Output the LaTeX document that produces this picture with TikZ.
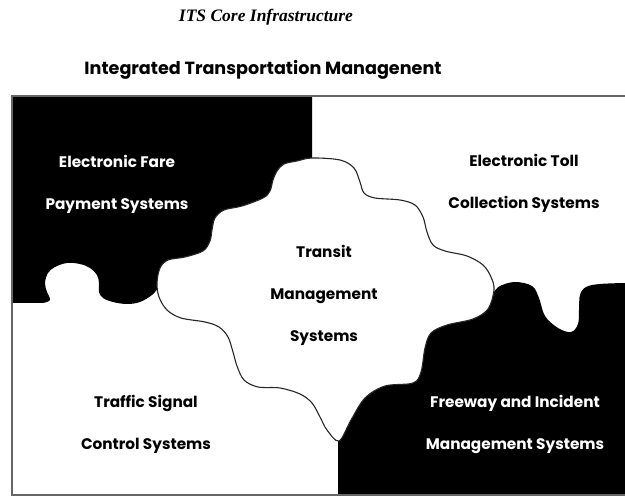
\documentclass[tikz,border=0pt]{standalone}
\usepackage{fontspec}
\newfontfamily\puzzlefont{Poppins}
\newfontfamily\capfont{Liberation Serif}
\tikzset{
	% label styles for the puzzle pieces
	darklabel/.style={font=\puzzlefont\bfseries\fontsize{15.3}{42}\selectfont, text=black, align=center, inner sep=0pt},
	lightlabel/.style={darklabel, text=white},
	frameline/.style={draw=black!60, line width=1.5pt}
}
\begin{document}
\begin{tikzpicture}[x=1pt,y=-1pt]
	\useasboundingbox (0,0) rectangle (625,497);
	\clip (0,0) rectangle (625,497);
	% Headings
	\node (subtitle) at (266,17) {\capfont\bfseries\itshape\fontsize{17.5}{20}\selectfont ITS Core Infrastructure};
	\node (title) at (263,70) {\puzzlefont\bfseries\fontsize{17.6}{20}\selectfont Integrated Transportation Managenent};
	% Draw upper left piece
	\fill[black] (12,96) -- (312,96) -- (312,220) -- (200,290) -- (160,288)
		-- plot[smooth, tension=0.6] coordinates {(158,288) (152,295) (140,302) (127,304) (113,302) (103,298) (99,292) (99,283) (97,275) (90,268) (80,264) (67,263) (55,267) (48,273) (45,283) (47,292) (50,300) (43,303)}
		-- (12,303) -- cycle;
	% Draw lower right piece
	\fill[black] (625,283)
		-- plot[smooth, tension=0.6] coordinates {(625,283) (600,284) (586,287) (580,295) (579,310) (578,324) (571,332) (558,328) (545,316) (539,298) (532,286) (515,282) (500,286) (494,292)}
		-- (470,300) -- (420,330) -- (338,425) -- (338,495) -- (625,495) -- cycle;
	% Draw middle piece
	\filldraw[fill=white, draw=black!85, line width=1.1pt] plot[smooth cycle, tension=0.55] coordinates {
		(312,158) (340,160) (354,168) (360,182) (364,193) (375,198) (400,200) (415,205) (423,217) (427,232) (433,245) (445,251) (467,256) (483,265) (491,277) (494,290)
		(488,309) (473,319) (447,325) (431,333) (425,348) (421,372) (413,383) (385,386) (365,398) (351,420) (339,441)
		(327,430) (320,417) (312,403) (300,394) (280,388) (258,387) (244,380) (237,366) (233,352) (228,337) (219,327) (205,322) (181,318) (167,310) (159,297) (157,283) (160,268) (168,260) (185,257) (203,251) (210,241) (212,230) (215,218) (224,210) (242,206) (263,198) (270,191) (273,180) (277,171) (284,164) (297,161)};
	% Draw frame
	\draw[frameline] (12,96) rectangle (640,495);
	% Labels
	\node[lightlabel] (fare) at (117,184) {Electronic Fare\\Payment Systems};
	\node[darklabel] (toll) at (524,183) {Electronic Toll\\Collection Systems};
	\node[darklabel] (transit) at (324,295) {Transit\\Management\\Systems};
	\node[darklabel] (signal) at (146,424) {Traffic Signal\\Control Systems};
	\node[lightlabel] (freeway) at (515,424) {Freeway and Incident\\Management Systems};
\end{tikzpicture}
\end{document}
